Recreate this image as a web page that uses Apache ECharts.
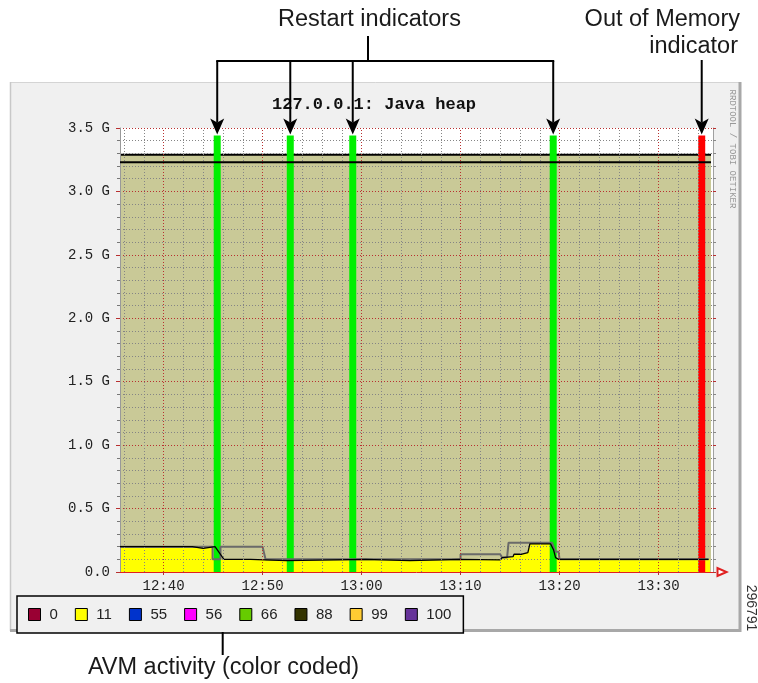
<!DOCTYPE html>
<html>
<head>
<meta charset="utf-8">
<title>127.0.0.1: Java heap</title>
<script src="https://cdn.jsdelivr.net/npm/echarts@6.0.0/dist/echarts.min.js"></script>
<style>
  html, body { margin: 0; padding: 0; background: #fff; }
  #main { width: 758px; height: 683px; }
</style>
</head>
<body>
<div id="main"></div>
<script>
// time = minutes after 12:00, memory in G
var axisStart = 35.6, axisEnd = 95.5;
var timeLabels = [40, 50, 60, 70, 80, 90];
var minorGrid = [36, 38, 42, 44, 46, 48, 52, 54, 56, 58, 62, 64, 66, 68, 72, 74, 76, 78, 82, 84, 86, 88, 92, 94];

// committed heap (khaki area) and max heap line
var heapTimes = [35.6, 95.3];
var heapCommitted = [3.29, 3.29];
var heapMax = [3.23, 3.23];

// heap used (black line)
var usedTimes = [35.6, 42.9, 42.9, 44.0, 44.0, 45.2, 46.1, 48.8, 48.8, 52.4, 52.4, 60.4, 60.4, 64.9, 64.9, 70.0, 70.0, 74.0, 74.2, 75.3, 75.4, 76.2, 76.4, 76.8, 77.0, 79.1, 79.4, 79.6, 79.9, 95.05];
var usedValues = [0.20, 0.20, 0.187, 0.187, 0.20, 0.20, 0.10, 0.10, 0.09, 0.09, 0.10, 0.10, 0.09, 0.09, 0.10, 0.10, 0.095, 0.095, 0.113, 0.121, 0.14, 0.14, 0.152, 0.152, 0.221, 0.221, 0.173, 0.113, 0.10, 0.10];

// heap used peak (gray line)
var peakTimes = [35.6, 44.95, 44.95, 45.75, 45.75, 50.0, 50.3, 70.0, 70.0, 74.0, 74.2, 74.7, 74.85, 79.23, 79.57, 79.9, 80.0, 95.05];
var peakValues = [0.20, 0.20, 0.10, 0.10, 0.20, 0.20, 0.10, 0.10, 0.14, 0.14, 0.115, 0.115, 0.231, 0.231, 0.16, 0.16, 0.10, 0.10];

// AVM activity code 11 (yellow)
var avmTimes = [35.6, 44.95, 44.95, 74.0, 74.2, 75.3, 75.4, 76.2, 76.4, 76.8, 77.0, 79.1, 79.4, 79.6, 79.9, 95.2];
var avmLevel = [0.19, 0.19, 0.10, 0.10, 0.113, 0.121, 0.14, 0.14, 0.152, 0.152, 0.221, 0.221, 0.173, 0.113, 0.10, 0.10];

var restartTimes = [45.42, 52.8, 59.11, 79.36];
var oomTimes = [94.36];
var indicatorTop = 3.44;

var avmCodes = ['0', '11', '55', '56', '66', '88', '99', '100'];
var avmColors = ['#990033', '#ffff00', '#0033cc', '#ff00ff', '#66cc00', '#333300', '#ffcc33', '#663399'];

var RED = '#b83030', GRAY = '#858585';
var MONO = '"Liberation Mono", "DejaVu Sans Mono", monospace';
var SANS = '"Liberation Sans", Arial, sans-serif';

function pairs(xs, ys) {
  return xs.map(function (x, i) { return [x, ys[i]]; });
}
function fmtTime(v) {
  var h = 12 + Math.floor(v / 60), m = Math.round(v % 60);
  return h + ':' + (m < 10 ? '0' + m : m);
}

var series = [];

//khaki committed heap
series.push({
  name: 'committed', type: 'line', data: pairs(heapTimes, heapCommitted),
  showSymbol: false, z: 1,
  lineStyle: { color: '#000', width: 2 },
  areaStyle: { color: '#c9c997', opacity: 1 }
});

//AVM codes, only 11 has activity
avmCodes.forEach(function (code, i) {
  series.push({
    name: code, type: 'line', z: 1, showSymbol: false,
    data: code === '11' ? pairs(avmTimes, avmLevel) : [],
    itemStyle: { color: avmColors[i] },
    lineStyle: { width: 0, opacity: 0 },
    areaStyle: { color: avmColors[i], opacity: 1 }
  });
});

//vertical grid lines
var gridMarks = minorGrid.map(function (t) {
  return { xAxis: t, lineStyle: { color: GRAY, type: [1, 2], width: 1 } };
}).concat(timeLabels.map(function (t) {
  return { xAxis: t, lineStyle: { color: RED, type: [1, 2], width: 1 } };
}));
series.push({
  name: 'vgrid', type: 'line', data: [], z: 2,
  markLine: { silent: true, symbol: 'none', label: { show: false }, animation: false, data: gridMarks }
});

//restart / out of memory indicators
series.push({
  name: 'indicators', type: 'bar', z: 3, barWidth: 7,
  data: restartTimes.map(function (t) {
    return { value: [t, indicatorTop], itemStyle: { color: '#00f000' } };
  }).concat(oomTimes.map(function (t) {
    return { value: [t, indicatorTop], itemStyle: { color: '#ff0000' } };
  }))
});

series.push({
  name: 'max', type: 'line', z: 4, showSymbol: false,
  data: pairs(heapTimes, heapMax),
  lineStyle: { color: '#000', width: 2 }
});
series.push({
  name: 'peak', type: 'line', z: 4, showSymbol: false,
  data: pairs(peakTimes, peakValues),
  lineStyle: { color: '#6a6a6a', width: 2 }
});
series.push({
  name: 'used', type: 'line', z: 4, showSymbol: false,
  data: pairs(usedTimes, usedValues),
  lineStyle: { color: '#000', width: 1.3 }
});

var yScale = { min: 0, max: 3.5, interval: 0.5 };

var option = {
  animation: false,
  backgroundColor: '#fff',
  title: {
    text: '127.0.0.1: Java heap', left: 272, top: 96, padding: 0,
    textStyle: { fontFamily: MONO, fontWeight: 'bold', fontSize: 17, color: '#111' }
  },
  grid: {
    left: 120, right: 45, top: 128, bottom: 111,
    show: true, backgroundColor: '#fff', borderWidth: 0,
    containLabel: false, outerBoundsMode: 'none'
  },
  legend: {
    data: avmCodes, left: 17, top: 596, orient: 'horizontal',
    icon: 'rect', itemWidth: 12, itemHeight: 12, itemGap: 17,
    padding: [11, 12, 11, 11],
    borderColor: '#000', borderWidth: 1.5, backgroundColor: '#f0f0f0',
    selectedMode: false,
    itemStyle: { borderColor: '#000', borderWidth: 1 },
    textStyle: { fontFamily: SANS, fontSize: 15, color: '#222', padding: [0, 0, 0, 4], lineHeight: 12 }
  },
  xAxis: {
    type: 'value', min: axisStart, max: axisEnd, z: 2,
    axisLine: {
      show: true, onZero: false,
      lineStyle: { color: '#e02020', width: 1 },
      symbol: ['none', 'emptyTriangle'], symbolSize: [8, 9], symbolOffset: [0, 9]
    },
    axisTick: { show: true, customValues: timeLabels, length: 3, lineStyle: { color: RED } },
    axisLabel: {
      customValues: timeLabels, formatter: fmtTime, margin: 7,
      fontFamily: MONO, fontSize: 14, color: '#222'
    },
    splitLine: { show: false }
  },
  yAxis: [{
    type: 'value', position: 'left', min: yScale.min, max: yScale.max, interval: yScale.interval, z: 2,
    axisLine: { show: true, lineStyle: { color: '#999', width: 1 } },
    axisTick: { show: true, length: 4, lineStyle: { color: RED } },
    minorTick: { show: true, splitNumber: 5, length: 3, lineStyle: { color: '#777' } },
    splitLine: { show: true, lineStyle: { color: RED, type: [1, 2], width: 1 } },
    minorSplitLine: { show: true, lineStyle: { color: GRAY, type: [1, 2], width: 1 } },
    axisLabel: {
      margin: 10, fontFamily: MONO, fontSize: 14, color: '#222',
      formatter: function (v) { return v === 0 ? '0.0' : v.toFixed(1) + ' G'; }
    }
  }, {
    type: 'value', position: 'right', min: yScale.min, max: yScale.max, interval: yScale.interval, z: 2,
    axisLine: { show: true, lineStyle: { color: '#a0a0a0', width: 1 } },
    axisTick: { show: true, length: 3, lineStyle: { color: RED } },
    minorTick: { show: true, splitNumber: 5, length: 3, lineStyle: { color: '#888' } },
    splitLine: { show: false },
    axisLabel: { show: false }
  }],
  series: series
};

var chart = echarts.init(document.getElementById('main'), null, { renderer: 'canvas' });
chart.setOption(option);

//annotations, placed from the indicator positions
var toX = function (t) { return chart.convertToPixel({ xAxisIndex: 0 }, t); };
var tipY = chart.convertToPixel({ yAxisIndex: 0 }, indicatorTop) - 1;
var restartX = restartTimes.map(toX);
var oomX = toX(oomTimes[0]);
var barY = 61;

function txt(id, s, x, y, size, align, color, family, rot) {
  return {
    id: id, type: 'text', x: x, y: y, rotation: rot || 0, z: 100,
    style: {
      text: s, x: 0, y: 0, fill: color || '#1a1a1a',
      fontSize: size, fontFamily: family || SANS,
      align: align, textAlign: align, verticalAlign: 'middle', textVerticalAlign: 'middle'
    }
  };
}
function seg(id, x1, y1, x2, y2, color, w, z) {
  return {
    id: id, type: 'line', z: z === undefined ? 100 : z, silent: true,
    shape: { x1: x1, y1: y1, x2: x2, y2: y2 },
    style: { stroke: color || '#000', lineWidth: w || 2 }
  };
}
function arrowHead(id, x) {
  return {
    id: id, type: 'polygon', z: 100, silent: true,
    shape: { points: [[x - 7, tipY - 16], [x, tipY - 12], [x + 7, tipY - 16], [x, tipY]] },
    style: { fill: '#000' }
  };
}

var g = [];
//gray panel behind the graph
g.push({ id: 'panel', type: 'rect', z: -10, silent: true,
  shape: { x: 10, y: 82, width: 731, height: 549 }, style: { fill: '#f0f0f0' } });
g.push(seg('pTop', 10, 82.5, 741, 82.5, '#d4d4d4', 1, -9));
g.push(seg('pLeft', 10.5, 82, 10.5, 631, '#c8c8c8', 1.5, -9));
g.push(seg('pRight', 740, 82, 740, 632, '#a8a8a8', 3, -9));
g.push(seg('pBottom', 10, 630.5, 741, 630.5, '#a8a8a8', 3, -9));

g.push(txt('rrd', 'RRDTOOL / TOBI OETIKER', 732, 149, 9, 'center', '#999', MONO, -Math.PI / 2));
g.push(txt('artno', '296791', 750.5, 608, 14, 'center', '#333', SANS, -Math.PI / 2));

//restart bracket
g.push(txt('restartTxt', 'Restart indicators', 369.5, 20, 23.5, 'center'));
g.push(seg('stub', 368, 36, 368, barY));
g.push(seg('bracket', restartX[0] - 1, barY, restartX[restartX.length - 1] + 1, barY));
restartX.forEach(function (x, i) {
  g.push(seg('drop' + i, x, barY, x, tipY - 12));
  g.push(arrowHead('head' + i, x));
});

//out of memory
g.push(txt('oom1', 'Out of Memory', 740, 20, 23.5, 'right'));
g.push(txt('oom2', 'indicator', 738, 47, 23.5, 'right'));
g.push(seg('oomLine', oomX, 60, oomX, tipY - 12));
g.push(arrowHead('oomHead', oomX));

//legend caption
g.push(seg('avmLine', 222.7, 632, 222.7, 655));
g.push(txt('avmTxt', 'AVM activity (color coded)', 223.5, 668, 23.5, 'center'));

chart.setOption({ graphic: { elements: g } });
</script>
</body>
</html>
